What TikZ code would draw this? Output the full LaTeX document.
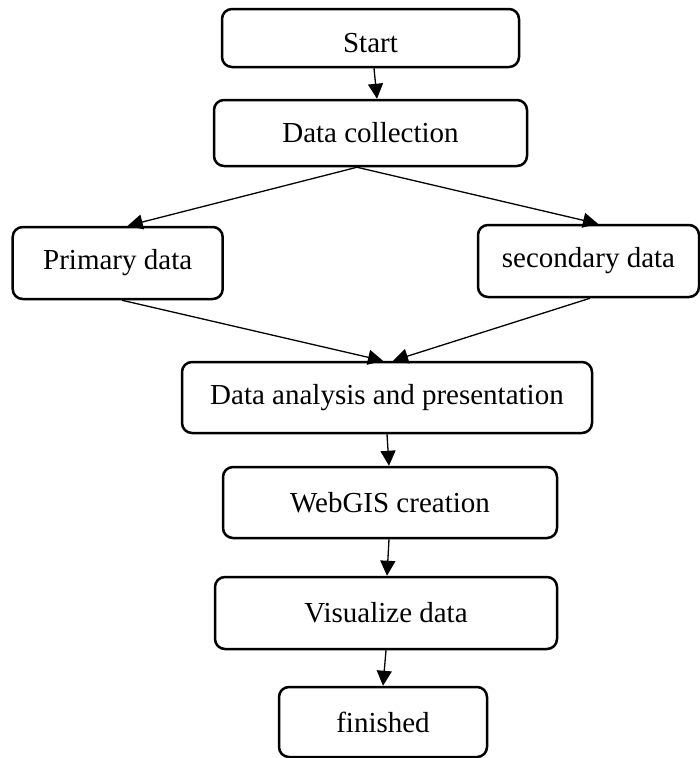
\documentclass[tikz,border=0pt]{standalone}
\usepackage{fontspec}
\setmainfont{Liberation Serif}
\usetikzlibrary{arrows.meta}
\begin{document}
\begin{tikzpicture}[x=1pt,y=-1pt,
  box/.style={draw, line width=2.5pt, rounded corners=10pt, inner sep=0pt,
    font=\fontsize{29}{34}\selectfont},
  conn/.style={line width=1.3pt, -{Triangle[length=15pt,width=15pt]}}]
\useasboundingbox (0,0) rectangle (700,758);
\node[box, minimum width=297pt, minimum height=58pt, text height=29pt] (start) at (370.5,38) {Start};
\node[box, minimum width=313pt, minimum height=66pt] (dc) at (370.5,133) {Data collection};
\node[box, minimum width=210pt, minimum height=72pt] (prim) at (117.7,263) {Primary data};
\node[box, minimum width=221pt, minimum height=72pt] (sec) at (588.5,261) {secondary data};
\node[box, minimum width=410pt, minimum height=71pt] (da) at (387,397.5) {Data analysis and presentation};
\node[box, minimum width=334pt, minimum height=71pt] (web) at (390,502.5) {WebGIS creation};
\node[box, minimum width=342pt, minimum height=72pt] (vis) at (386,613) {Visualize data};
\node[box, minimum width=208pt, minimum height=70pt] (fin) at (383,722) {finished};
\draw[conn] ([xshift=3.5pt]start.south) -- ([xshift=6.5pt]dc.north);
\draw[conn] ([xshift=-13.5pt]dc.south) -- ([xshift=10pt]prim.north);
\draw[conn] ([xshift=-13.5pt]dc.south) -- ([xshift=9.5pt]sec.north);
\draw[conn] ([xshift=4.3pt]prim.south) -- ([xshift=-4pt]da.north);
\draw[conn] ([xshift=1.5pt]sec.south) -- ([xshift=6pt]da.north);
\draw[conn] (da.south) -- ([xshift=-1pt]web.north);
\draw[conn] ([xshift=-1pt]web.south) -- ([xshift=1pt]vis.north);
\draw[conn] (vis.south) -- (fin.north);
\end{tikzpicture}
\end{document}
